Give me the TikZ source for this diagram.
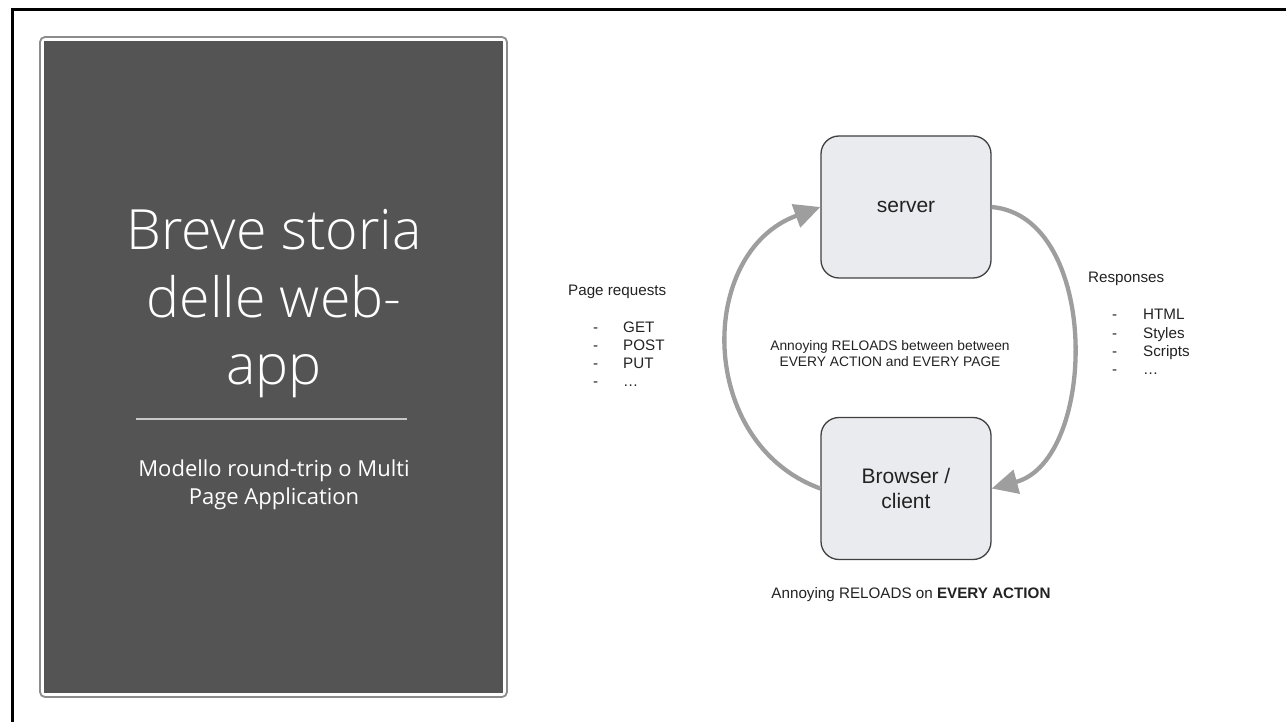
\documentclass[tikz,border=0pt]{standalone}
\usepackage{fontspec}
\setmainfont{Liberation Sans}
\newfontfamily\slidefont{Open Sans}
\newfontfamily\slidelight{Open Sans Light}
\usetikzlibrary{arrows.meta}
\definecolor{panelgray}{RGB}{84,84,84}
\definecolor{rimgray}{RGB}{140,140,140}
\definecolor{rulegray}{RGB}{200,200,200}
\definecolor{boxfill}{RGB}{233,235,238}
\definecolor{boxline}{RGB}{64,64,64}
\definecolor{flowgray}{RGB}{158,158,158}
\definecolor{textdark}{RGB}{34,34,34}
\begin{document}
\begin{tikzpicture}[x=1pt,y=1pt,
		hostbox/.style={draw=boxline,line width=1.3pt,fill=boxfill,rounded corners=18pt,minimum width=170pt,minimum height=142pt,inner sep=0pt,align=center,text=textdark,font=\fontsize{21}{25}\selectfont},
		flow/.style={draw=flowgray,line width=4.3pt,-{Triangle[length=26pt,width=24pt]}},
		note/.style={inner sep=0pt,anchor=base west,text=textdark,font=\fontsize{15.2}{17}\selectfont}]
		\useasboundingbox (0,0) rectangle (1286,721);
		\coordinate (frame_low) at (12,-2);
		\coordinate (frame_corner) at (12,711);
		\coordinate (frame_right) at (1288,711);
		\draw[line width=3pt] (frame_low) -- (frame_corner) -- (frame_right);
		% title panel
		\draw[rimgray,line width=1.8pt,rounded corners=5pt] (40,24) rectangle (507,684);
		\fill[panelgray] (44,28) rectangle (503,680);
		\node[text=white,align=center,inner sep=0pt,font=\slidelight\fontsize{55.5}{67.5}\selectfont] (title) at (274,417) {Breve storia\\delle web-\\app};
		\coordinate (rule_l) at (136,302);
		\coordinate (rule_r) at (407,302);
		\draw[rulegray,line width=2pt] (rule_l) -- (rule_r);
		\node[text=white,align=center,inner sep=0pt,font=\slidefont\fontsize{22}{28}\selectfont] (subtitle) at (274,236) {Modello round-trip o Multi\\Page Application};
		% diagram
		\node[hostbox] (server) at (906,514) {server};
		\node[hostbox] (browser) at (906,232.5) {Browser /\\client};
		\draw[flow] (browser.west) to[out=160,in=200,looseness=1.2] (server.west);
		\draw[flow] (server.east) to[out=-5,in=15,looseness=1.0] (browser.east);
		\node[align=center,inner sep=0pt,text=textdark,font=\fontsize{13.8}{16}\selectfont] (reloads) at (890,367) {Annoying RELOADS between between\\EVERY ACTION and EVERY PAGE};
		\node[note,anchor=base] (caption) at (911,123) {Annoying RELOADS on \textbf{EVERY ACTION}};
		\node[note] (requests) at (568,425) {Page requests};
		\foreach \req [count=\i from 0] in {GET,POST,PUT,\dots}{
			\node[note] (reqdash\i) at (593,388-17.8*\i) {-};
			\node[note] (req\i) at (623,388-17.8*\i) {\req};
		}
		\node[note] (responses) at (1088,438) {Responses};
		\foreach \res [count=\i from 0] in {HTML,Styles,Scripts,\dots}{
			\node[note] (resdash\i) at (1112,401-18.3*\i) {-};
			\node[note] (res\i) at (1143,401-18.3*\i) {\res};
		}
\end{tikzpicture}
\end{document}
